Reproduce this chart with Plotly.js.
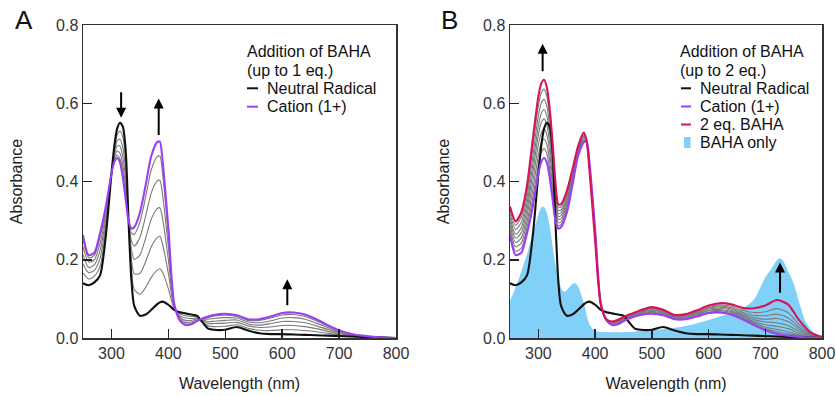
<!DOCTYPE html>
<html>
<head>
<meta charset="utf-8">
<script src="https://cdn.plot.ly/plotly-3.0.1.min.js"></script>
<style>html,body{margin:0;padding:0;background:#fff;}#chart{width:836px;height:396px;}</style>
</head>
<body>
<div id="chart"></div>
<script>
// ---------- data ----------
const wavelength = [250,260,270,280,290,300,305,310,315,320,325,330,335,340,350,360,370,380,385,390,400,410,420,430,440,450,460,470,480,500,520,540,560,580,600,620,640,660,680,700,720,740,760,780,800];

const neutralRadical = [0.140,0.135,0.142,0.160,0.260,0.420,0.490,0.535,0.550,0.540,0.480,0.300,0.150,0.082,0.057,0.060,0.072,0.086,0.091,0.093,0.085,0.072,0.066,0.063,0.060,0.057,0.040,0.024,0.021,0.021,0.028,0.019,0.012,0.010,0.010,0.009,0.008,0.007,0.006,0.005,0.004,0.003,0.002,0.001,0.000];

const cation = [0.263,0.212,0.218,0.268,0.335,0.420,0.450,0.460,0.448,0.410,0.355,0.300,0.280,0.283,0.320,0.390,0.465,0.500,0.502,0.450,0.280,0.090,0.045,0.033,0.035,0.043,0.050,0.055,0.059,0.062,0.058,0.048,0.048,0.055,0.064,0.065,0.060,0.048,0.033,0.020,0.011,0.006,0.003,0.001,0.000];

const twoEqBaha = [0.336,0.298,0.322,0.390,0.506,0.617,0.650,0.660,0.640,0.585,0.500,0.400,0.342,0.342,0.375,0.430,0.490,0.525,0.505,0.430,0.250,0.085,0.048,0.042,0.046,0.053,0.060,0.065,0.071,0.079,0.072,0.059,0.061,0.071,0.083,0.089,0.086,0.077,0.076,0.083,0.097,0.086,0.045,0.014,0.003];

// intermediate titration spectra, panel A (up to 1 eq.)
const stepA1 = [0.166,0.151,0.158,0.183,0.276,0.420,0.482,0.519,0.529,0.513,0.454,0.300,0.177,0.124,0.112,0.129,0.155,0.173,0.177,0.168,0.126,0.076,0.062,0.057,0.055,0.054,0.042,0.031,0.029,0.030,0.034,0.025,0.020,0.019,0.021,0.021,0.019,0.016,0.012,0.008,0.005,0.004,0.002,0.001,0.000];
const stepA2 = [0.190,0.167,0.173,0.204,0.291,0.420,0.474,0.504,0.508,0.487,0.429,0.300,0.203,0.164,0.165,0.195,0.233,0.256,0.260,0.239,0.165,0.079,0.057,0.051,0.050,0.051,0.044,0.037,0.037,0.038,0.040,0.031,0.027,0.028,0.032,0.032,0.029,0.024,0.017,0.011,0.007,0.004,0.002,0.001,0.000];
const stepA3 = [0.213,0.180,0.187,0.224,0.304,0.420,0.466,0.491,0.490,0.463,0.406,0.300,0.227,0.201,0.212,0.255,0.304,0.330,0.333,0.304,0.200,0.083,0.054,0.045,0.045,0.049,0.046,0.042,0.043,0.045,0.046,0.036,0.033,0.037,0.042,0.042,0.039,0.031,0.022,0.014,0.008,0.005,0.003,0.001,0.000];
const stepA4 = [0.233,0.194,0.200,0.242,0.317,0.420,0.460,0.478,0.472,0.441,0.385,0.300,0.249,0.235,0.257,0.311,0.371,0.401,0.403,0.364,0.233,0.086,0.050,0.040,0.041,0.046,0.048,0.048,0.050,0.052,0.051,0.041,0.039,0.044,0.051,0.052,0.048,0.038,0.027,0.016,0.009,0.005,0.003,0.001,0.000];
const stepA5 = [0.252,0.205,0.211,0.258,0.328,0.420,0.454,0.467,0.457,0.422,0.366,0.300,0.268,0.265,0.296,0.360,0.430,0.463,0.465,0.418,0.262,0.088,0.047,0.036,0.037,0.044,0.049,0.052,0.056,0.058,0.055,0.045,0.045,0.051,0.059,0.060,0.055,0.044,0.031,0.019,0.010,0.006,0.003,0.001,0.000];

// intermediate titration spectra, panel B (1 to 2 eq.)
const stepB1 = [0.327,0.288,0.310,0.375,0.485,0.593,0.626,0.636,0.617,0.564,0.483,0.388,0.335,0.335,0.368,0.425,0.487,0.522,0.505,0.432,0.254,0.086,0.048,0.041,0.045,0.052,0.059,0.064,0.070,0.077,0.070,0.058,0.059,0.069,0.081,0.085,0.081,0.071,0.065,0.067,0.075,0.065,0.034,0.011,0.002];
const stepB2 = [0.318,0.277,0.296,0.360,0.463,0.568,0.600,0.610,0.592,0.541,0.464,0.375,0.327,0.327,0.361,0.420,0.484,0.519,0.504,0.435,0.258,0.086,0.047,0.040,0.043,0.051,0.058,0.063,0.068,0.075,0.069,0.056,0.058,0.067,0.078,0.082,0.077,0.066,0.058,0.057,0.061,0.052,0.027,0.009,0.002];
const stepB3 = [0.308,0.265,0.282,0.344,0.441,0.542,0.574,0.584,0.567,0.519,0.445,0.362,0.318,0.320,0.354,0.415,0.481,0.516,0.504,0.438,0.261,0.087,0.047,0.039,0.042,0.049,0.056,0.061,0.066,0.073,0.067,0.055,0.056,0.065,0.076,0.079,0.074,0.062,0.052,0.048,0.050,0.042,0.022,0.007,0.001];
const stepB4 = [0.300,0.255,0.270,0.329,0.421,0.519,0.550,0.560,0.544,0.498,0.428,0.350,0.311,0.313,0.348,0.410,0.478,0.513,0.504,0.440,0.265,0.088,0.047,0.038,0.041,0.048,0.055,0.060,0.065,0.071,0.065,0.054,0.055,0.063,0.074,0.076,0.071,0.059,0.047,0.041,0.039,0.032,0.017,0.005,0.001];
const stepB5 = [0.290,0.244,0.256,0.313,0.398,0.493,0.524,0.534,0.519,0.475,0.409,0.337,0.303,0.305,0.340,0.405,0.474,0.509,0.503,0.443,0.269,0.088,0.046,0.036,0.039,0.047,0.054,0.059,0.063,0.068,0.063,0.052,0.053,0.061,0.071,0.073,0.068,0.056,0.042,0.034,0.030,0.024,0.012,0.004,0.001];
const stepB6 = [0.281,0.233,0.243,0.297,0.376,0.467,0.498,0.508,0.494,0.452,0.390,0.324,0.295,0.297,0.333,0.400,0.471,0.506,0.503,0.445,0.273,0.089,0.046,0.035,0.038,0.045,0.052,0.057,0.062,0.066,0.061,0.051,0.051,0.059,0.069,0.070,0.065,0.053,0.039,0.028,0.022,0.016,0.008,0.003,0.000];
const stepB7 = [0.272,0.222,0.230,0.283,0.356,0.444,0.474,0.484,0.471,0.431,0.372,0.312,0.287,0.290,0.327,0.395,0.468,0.503,0.502,0.448,0.276,0.089,0.045,0.034,0.036,0.044,0.051,0.056,0.060,0.064,0.060,0.049,0.050,0.057,0.066,0.067,0.062,0.050,0.036,0.024,0.016,0.011,0.006,0.002,0.000];

// BAHA alone
const bahaWavelength = [250,260,270,280,290,300,305,310,315,320,330,340,345,350,360,365,370,380,390,400,420,450,500,550,580,600,620,640,660,680,690,700,710,720,725,730,740,750,760,770,780,790,800];
const bahaOnly = [0.095,0.130,0.170,0.215,0.265,0.315,0.333,0.335,0.320,0.285,0.190,0.128,0.118,0.122,0.138,0.140,0.132,0.090,0.035,0.018,0.015,0.015,0.020,0.028,0.038,0.046,0.055,0.063,0.075,0.098,0.125,0.155,0.175,0.198,0.204,0.200,0.172,0.140,0.090,0.045,0.022,0.010,0.004];

const xTickVals = [300,400,500,600,700,800];
const yTickVals = [0,0.2,0.4,0.6,0.8];
const yTickText = ['0.0','0.2','0.4','0.6','0.8'];

// ---------- styling ----------
const FONT = 'Liberation Sans, Arial, Helvetica, sans-serif';
const W = 836, H = 396;
const px = v => v / W;
const py = v => 1 - v / H;
const C_BLACK = '#111111', C_PURPLE = '#9a3ff2', C_RED = '#d5145a', C_GRAY = '#7a7a7a', C_BLUE = '#80d0f8';

function line(x, y, color, width, xa, ya) {
  return {x: x, y: y, type: 'scatter', mode: 'lines', xaxis: xa, yaxis: ya,
    line: {color: color, width: width, shape: 'spline', smoothing: 0.7},
    hoverinfo: 'skip', showlegend: false};
}

const traces = [];
// Panel A
[stepA1, stepA2, stepA3, stepA4, stepA5].forEach(s => traces.push(line(wavelength, s, C_GRAY, 1.1, 'x', 'y')));
traces.push(line(wavelength, neutralRadical, C_BLACK, 2.1, 'x', 'y'));
traces.push(line(wavelength, cation, C_PURPLE, 2.1, 'x', 'y'));
// Panel B
traces.push({x: bahaWavelength, y: bahaOnly, type: 'scatter', mode: 'lines', xaxis: 'x2', yaxis: 'y2',
  fill: 'tozeroy', fillcolor: C_BLUE, line: {width: 0, color: C_BLUE, shape: 'spline', smoothing: 0.7},
  hoverinfo: 'skip', showlegend: false});
[stepB1, stepB2, stepB3, stepB4, stepB5, stepB6, stepB7].forEach(s => traces.push(line(wavelength, s, C_GRAY, 1.1, 'x2', 'y2')));
traces.push(line(wavelength, neutralRadical, C_BLACK, 2.1, 'x2', 'y2'));
traces.push(line(wavelength, cation, C_PURPLE, 2.1, 'x2', 'y2'));
traces.push(line(wavelength, twoEqBaha, C_RED, 2.1, 'x2', 'y2'));

function xAxis(domain, anchor) {
  return {domain: domain, anchor: anchor, range: [250, 800], tickvals: xTickVals,
    ticks: 'inside', ticklen: 9, tickwidth: 1.5, tickcolor: '#222',
    showline: true, mirror: true, linecolor: '#333', linewidth: 1.5,
    showgrid: false, zeroline: false,
    tickfont: {family: FONT, size: 16, color: '#333'},
    title: {text: 'Wavelength (nm)', font: {family: FONT, size: 16, color: '#222'}, standoff: 17}};
}
function yAxis(domain, anchor) {
  return {domain: domain, anchor: anchor, range: [0, 0.8], tickvals: yTickVals, ticktext: yTickText,
    ticks: 'inside', ticklen: 9, tickwidth: 1.5, tickcolor: '#222',
    showline: true, mirror: true, linecolor: '#333', linewidth: 1.5,
    showgrid: false, zeroline: false,
    tickfont: {family: FONT, size: 16, color: '#333'},
    title: {text: 'Absorbance', font: {family: FONT, size: 16, color: '#222'}, standoff: 29}};
}

const yDom = [(H - 338) / H, (H - 25) / H];

function txt(x, y, text, size, anchor) {
  return {xref: 'paper', yref: 'paper', x: px(x), y: py(y), text: text, showarrow: false,
    xanchor: anchor || 'left', yanchor: 'middle', font: {family: FONT, size: size, color: '#111'}};
}
function arrow(xa, ya, x, yTip, yTail) {
  return {xref: xa, yref: ya, axref: xa, ayref: ya, x: x, y: yTip, ax: x, ay: yTail,
    text: '', showarrow: true, arrowhead: 2, arrowsize: 1, arrowwidth: 2, arrowcolor: '#000'};
}

const annotations = [
  txt(24, 20, 'A', 26, 'center'),
  txt(449, 20, 'B', 26, 'center'),
  txt(244.5, 51.7, 'Addition of BAHA', 16),
  txt(244.5, 70, '(up to 1 eq.)', 16),
  txt(264.5, 88.3, 'Neutral Radical', 16),
  txt(264.5, 106.7, 'Cation (1+)', 16),
  txt(678, 51.7, 'Addition of BAHA', 16),
  txt(678, 70, '(up to 2 eq.)', 16),
  txt(697.5, 88.3, 'Neutral Radical', 16),
  txt(697.5, 106.5, 'Cation (1+)', 16),
  txt(697.5, 124.5, '2 eq. BAHA', 16),
  txt(697.5, 142.5, 'BAHA only', 16),
  arrow('x', 'y', 317, 0.563, 0.632),
  arrow('x', 'y', 383, 0.612, 0.515),
  arrow('x', 'y', 609, 0.150, 0.080),
  arrow('x2', 'y2', 307.5, 0.752, 0.678),
  arrow('x2', 'y2', 726, 0.193, 0.112)
];

function sw(x0, x1, y, color) {
  return {type: 'line', xref: 'paper', yref: 'paper', x0: px(x0), x1: px(x1), y0: py(y), y1: py(y),
    line: {color: color, width: 2}};
}
const shapes = [
  sw(247, 258, 88.3, C_BLACK),
  sw(247, 258, 106.7, C_PURPLE),
  sw(681, 691, 88.3, C_BLACK),
  sw(681, 691, 106.5, C_PURPLE),
  sw(681, 691, 124.5, C_RED),
  {type: 'rect', xref: 'paper', yref: 'paper', x0: px(684), x1: px(690.5), y0: py(148), y1: py(137),
    fillcolor: C_BLUE, line: {width: 0}}
];

const layout = {
  width: W, height: H,
  margin: {l: 0, r: 0, t: 0, b: 0},
  paper_bgcolor: '#fff', plot_bgcolor: '#fff',
  showlegend: false,
  xaxis: xAxis([83 / W, 396 / W], 'y'),
  yaxis: yAxis(yDom, 'x'),
  xaxis2: xAxis([510 / W, 822 / W], 'y2'),
  yaxis2: yAxis(yDom, 'x2'),
  annotations: annotations,
  shapes: shapes
};

Plotly.newPlot('chart', traces, layout, {staticPlot: true, displayModeBar: false});
</script>
</body>
</html>
